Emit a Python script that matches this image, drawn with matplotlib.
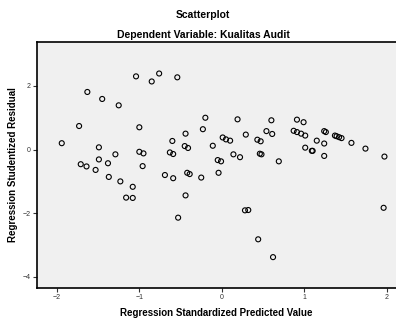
import matplotlib
matplotlib.use('Agg')
import matplotlib.pyplot as plt

# regression standardized predicted value (x) vs studentized residual (y)
pred = [-1.04, -0.76, -0.85, -0.54, -1.63, -1.45, -1.25, -1.73, -1.00, -0.44,
        -1.94, -0.60, -1.49, -0.45, -0.41, -1.00, -0.95, -0.63, -0.59, -1.49,
        -1.29, -1.71, -1.64, -1.53, -1.38, -0.96, -1.37, -1.23, -1.08, -0.69,
        -0.59, -0.42, -0.39, -1.16, -1.08, -0.44, -0.53, -0.25, -0.20, 0.19,
        0.60, 0.91, 0.99, -0.23, 0.29, 0.54, 0.61, 0.87, 0.91, 0.96,
        1.01, 1.24, 1.26, 1.37, 1.39, 1.42, 1.45, 1.57, 1.74, 1.97,
        0.01, 0.05, 0.10, 0.43, 0.47, 1.15, 1.24, -0.11, 1.01, 1.09,
        1.10, 1.24, 0.14, 0.22, 0.46, 0.48, 0.69, -0.05, -0.01, -0.04,
        0.28, 0.32, 0.44, 0.62, 1.96]
resid = [2.30, 2.39, 2.14, 2.27, 1.81, 1.59, 1.39, 0.74, 0.70, 0.50,
         0.20, 0.27, 0.07, 0.11, 0.05, -0.07, -0.12, -0.09, -0.14, -0.31,
         -0.15, -0.46, -0.53, -0.64, -0.43, -0.52, -0.86, -1.00, -1.17, -0.80,
         -0.90, -0.73, -0.77, -1.51, -1.52, -1.44, -2.14, -0.88, 1.00, 0.95,
         0.92, 0.94, 0.86, 0.64, 0.47, 0.58, 0.49, 0.59, 0.55, 0.50,
         0.44, 0.58, 0.55, 0.44, 0.42, 0.39, 0.36, 0.21, 0.03, -0.22,
         0.38, 0.32, 0.28, 0.31, 0.26, 0.28, 0.19, 0.12, 0.06, -0.04,
         -0.04, -0.20, -0.15, -0.24, -0.13, -0.15, -0.37, -0.33, -0.37, -0.73,
         -1.91, -1.90, -2.82, -3.38, -1.83]

x_ticks = [-2, -1, 0, 1, 2]
y_ticks = [-4, -2, 0, 2]

plt.rcParams['font.family'] = ['Liberation Sans', 'DejaVu Sans']

fig = plt.figure(figsize=(3.96, 3.2), dpi=100)
ax = fig.add_axes([37/396, 1 - 288/320, 359/396, 246/320])
ax.set_facecolor('#f0f0f0')

ax.scatter(pred, resid, s=13, facecolors='none', edgecolors='black', linewidths=0.8)

ax.set_xlim(-2.24, 2.11)
ax.set_ylim(-4.35, 3.38)
ax.set_xticks(x_ticks)
ax.set_yticks(y_ticks)
ax.tick_params(length=3, width=0.8, labelsize=5, colors='#333333', pad=1.5)
for side in ['left', 'bottom', 'top']:
    ax.spines[side].set_linewidth(1.2)
ax.spines['right'].set_visible(False)

fig.text(0.513, 0.953, 'Scatterplot', ha='center', va='center', fontsize=7.5, fontweight='bold')
fig.text(0.513, 0.891, 'Dependent Variable: Kualitas Audit', ha='center', va='center',
         fontsize=7.5, fontweight='bold')
ax.set_xlabel('Regression Standardized Predicted Value', fontsize=7, fontweight='bold', labelpad=5)
ax.set_ylabel('Regression Studentized Residual', fontsize=7, fontweight='bold', labelpad=3)

fig.savefig('out.png', dpi=100)
